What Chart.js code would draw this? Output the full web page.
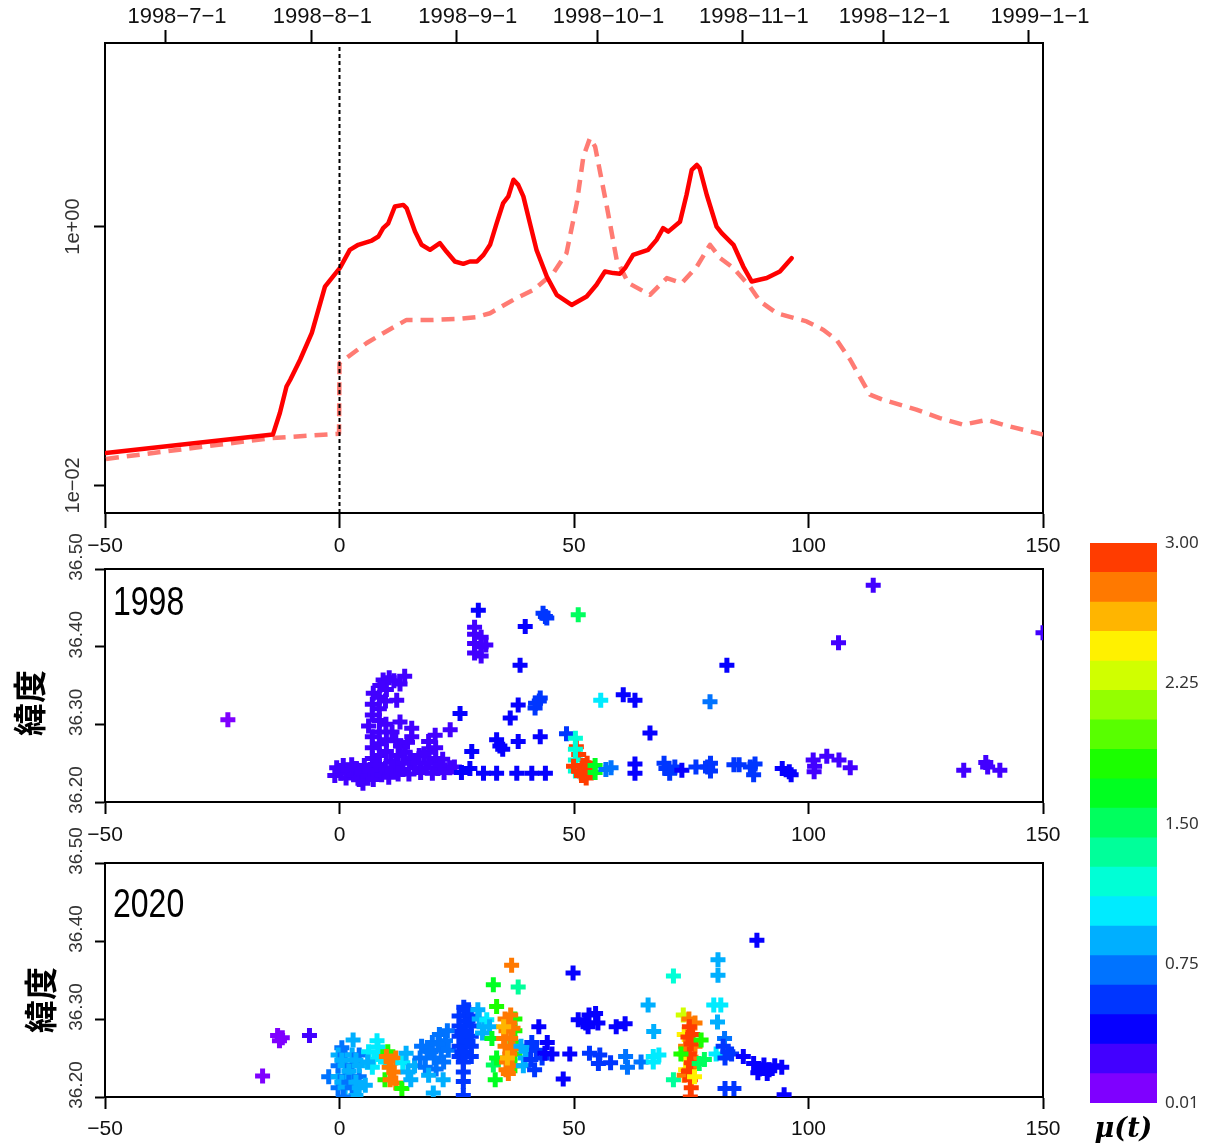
<!DOCTYPE html>
<html lang="ja">
<head>
<meta charset="UTF-8">
<title>μ(t)</title>
<script src="https://cdn.jsdelivr.net/npm/chart.js"></script>
<style>
  body { margin: 0; background: #fff; }
  .quadro { position: relative; width: 1209px; height: 1146px; overflow: hidden; background: #fff; }
  .quadro canvas { position: absolute; }
</style>
</head>
<body>
<div class="quadro">
  <canvas id="taxa" width="1209" height="565" style="left:0;top:0"></canvas>
  <canvas id="lat1998" width="1209" height="330" style="left:0;top:520px"></canvas>
  <canvas id="lat2020" width="1209" height="334" style="left:0;top:812px"></canvas>
  <canvas id="escala" width="149" height="626" style="left:1060px;top:520px"></canvas>
</div>
<script>
// eixos
const xTicks = [-50, 0, 50, 100, 150];
const xLabels = ['−50', '0', '50', '100', '150'];
const dateDays = [-37, -6, 25, 55, 86, 116, 147];
const dateLabels = ['1998−7−1', '1998−8−1', '1998−9−1', '1998−10−1', '1998−11−1', '1998−12−1', '1999−1−1'];
const rateTicks = [0.01, 1];
const rateLabels = ['1e−02', '1e+00'];
const rateMin = 0.00612;
const rateMax = 26.2;
const latTicks = [36.20, 36.25, 36.30, 36.35, 36.40, 36.45, 36.50];
const latLabels = ['36.20', '', '36.30', '', '36.40', '', '36.50'];

// taxa (linha cheia)
const solidDays = [-49.8, -14.2, -12.7, -11.3, -10.5, -8.4, -5.9, -3.1, -1.4, 0.1, 2.2, 4.0, 6.9, 8.3, 9.3, 10.4, 11.8, 13.6, 14.3, 16.1, 17.5, 19.3, 21.4, 22.8, 24.6, 26.4, 27.8, 29.3, 30.7, 32.1, 33.5, 34.9, 36.0, 37.1, 38.1, 39.2, 40.6, 42.0, 44.2, 46.3, 49.5, 52.7, 54.8, 56.6, 58.4, 59.8, 60.9, 62.6, 65.8, 67.6, 69.0, 70.1, 72.6, 74.0, 75.1, 76.2, 76.8, 78.3, 80.4, 81.5, 84.0, 86.1, 87.9, 91.1, 93.9, 96.4];
const solidRate = [0.0178, 0.0247, 0.0364, 0.0581, 0.0655, 0.0935, 0.151, 0.344, 0.411, 0.480, 0.661, 0.723, 0.780, 0.838, 0.973, 1.06, 1.43, 1.47, 1.39, 0.914, 0.723, 0.661, 0.745, 0.641, 0.537, 0.515, 0.537, 0.537, 0.604, 0.723, 1.06, 1.52, 1.71, 2.30, 2.10, 1.71, 1.06, 0.661, 0.411, 0.297, 0.248, 0.288, 0.355, 0.450, 0.437, 0.432, 0.478, 0.604, 0.661, 0.789, 0.973, 0.914, 1.09, 1.76, 2.74, 2.99, 2.82, 1.76, 1.00, 0.889, 0.723, 0.491, 0.376, 0.400, 0.450, 0.570];
// taxa (tracejada)
const dashedDays = [-49.8, -14.5, -0.1, 0, 5.8, 9.3, 14.3, 20.0, 25.0, 29.3, 32.1, 37.1, 41.4, 45.6, 48.4, 50.6, 52.0, 53.4, 54.5, 57.0, 59.1, 61.6, 66.2, 69.8, 73.0, 76.2, 79.0, 81.2, 84.0, 87.5, 89.7, 93.2, 99.6, 103.2, 106.0, 108.9, 113.1, 115.9, 123.0, 128.0, 133.0, 138.0, 141.5, 150];
const dashedRate = [0.0160, 0.0232, 0.0251, 0.0881, 0.126, 0.150, 0.190, 0.190, 0.193, 0.200, 0.214, 0.272, 0.325, 0.437, 0.623, 1.52, 3.47, 4.82, 4.15, 1.43, 0.553, 0.366, 0.297, 0.400, 0.366, 0.491, 0.723, 0.570, 0.478, 0.344, 0.264, 0.214, 0.185, 0.159, 0.133, 0.0935, 0.0502, 0.0459, 0.0385, 0.0331, 0.0294, 0.0321, 0.0294, 0.0247];

// escala de cores mu(t)
const muBreaks = [0.010, 0.167, 0.325, 0.482, 0.639, 0.797, 0.954, 1.112, 1.269, 1.426, 1.584, 1.741, 1.898, 2.056, 2.213, 2.370, 2.528, 2.685, 2.843, 3.000];
const muColors = ['#7F00FF', '#4200FF', '#0600FF', '#0036FF', '#0073FF', '#00AFFF', '#00EBFF', '#00FFD6', '#00FF9A', '#00FF5E', '#00FF21', '#1BFF00', '#58FF00', '#94FF00', '#D0FF00', '#FFF100', '#FFB500', '#FF7900', '#FF3C00'];
const muTicks = [0.01, 0.75, 1.50, 2.25, 3.00];
const muLabels = ['0.01', '0.75', '1.50', '2.25', '3.00'];

// [dia, latitude, mu]
const quakes1998 = [
  [-23.8, 36.306, 0.09],
  [-1.0, 36.234, 0.2], [-0.6, 36.244, 0.2], [0.3, 36.237, 0.2], [0.8, 36.247, 0.2], [1.4, 36.231, 0.2], [1.9, 36.241, 0.2],
  [2.6, 36.248, 0.2], [3.0, 36.235, 0.2], [3.6, 36.243, 0.2], [4.2, 36.229, 0.2], [4.8, 36.238, 0.2], [5.3, 36.247, 0.2],
  [5.0, 36.224, 0.2], [6.0, 36.233, 0.22], [6.5, 36.242, 0.22], [7.2, 36.229, 0.22], [7.8, 36.24, 0.22], [8.5, 36.248, 0.22],
  [9.0, 36.235, 0.22], [9.8, 36.243, 0.22], [10.5, 36.232, 0.22], [11.2, 36.24, 0.22], [12.0, 36.247, 0.22], [12.5, 36.236, 0.22],
  [7.0, 36.256, 0.25], [7.0, 36.27, 0.25], [7.0, 36.284, 0.25], [6.2, 36.298, 0.25], [7.0, 36.312, 0.25], [7.0, 36.326, 0.25], [7.2, 36.34, 0.25],
  [8.5, 36.26, 0.25], [8.5, 36.275, 0.25], [8.5, 36.29, 0.25], [8.5, 36.305, 0.25], [8.5, 36.32, 0.25], [8.5, 36.335, 0.25], [8.6, 36.35, 0.25],
  [10.0, 36.265, 0.25], [10.0, 36.28, 0.25], [9.8, 36.33, 0.25], [10.0, 36.345, 0.25], [9.9, 36.3, 0.25], [7.8, 36.248, 0.25],
  [9.3, 36.357, 0.25], [10.6, 36.36, 0.25], [11.6, 36.356, 0.25], [13.9, 36.362, 0.25], [12.9, 36.352, 0.25],
  [13.5, 36.242, 0.25], [14.8, 36.236, 0.25], [16.0, 36.244, 0.25], [17.3, 36.238, 0.25], [18.5, 36.244, 0.25], [19.8, 36.237, 0.25],
  [21.0, 36.243, 0.25], [22.3, 36.238, 0.25], [23.5, 36.244, 0.25],
  [11.2, 36.29, 0.25], [12.0, 36.279, 0.25], [13.0, 36.272, 0.25], [14.0, 36.264, 0.25], [15.0, 36.256, 0.25], [16.0, 36.25, 0.25],
  [17.0, 36.26, 0.25], [12.5, 36.26, 0.25], [14.5, 36.277, 0.25], [11.0, 36.252, 0.25], [13.5, 36.25, 0.25],
  [12.2, 36.331, 0.25], [12.9, 36.303, 0.25], [15.4, 36.295, 0.25], [15.4, 36.284, 0.25],
  [19.0, 36.25, 0.25], [19.0, 36.264, 0.25], [19.0, 36.278, 0.25], [20.5, 36.256, 0.25], [20.5, 36.27, 0.25], [20.4, 36.286, 0.25],
  [22.0, 36.255, 0.25], [18.0, 36.262, 0.25], [21.5, 36.248, 0.25],
  [23.6, 36.293, 0.3], [25.7, 36.314, 0.35], [24.5, 36.245, 0.3], [26.0, 36.238, 0.35], [27.8, 36.243, 0.35], [28.2, 36.265, 0.4],
  [28.8, 36.392, 0.3], [28.8, 36.404, 0.3], [28.8, 36.416, 0.3], [28.8, 36.425, 0.3], [30.2, 36.388, 0.3], [30.2, 36.4, 0.3],
  [30.2, 36.412, 0.3], [31.2, 36.402, 0.3], [29.6, 36.447, 0.33],
  [30.7, 36.237, 0.4], [33.5, 36.237, 0.4], [33.5, 36.28, 0.4], [34.2, 36.272, 0.4], [34.8, 36.268, 0.4],
  [36.4, 36.308, 0.45], [38.1, 36.325, 0.45], [38.5, 36.376, 0.45], [39.6, 36.426, 0.45], [41.8, 36.327, 0.5], [42.8, 36.334, 0.5],
  [41.7, 36.321, 0.5], [42.6, 36.33, 0.5], [42.8, 36.284, 0.45], [38.1, 36.278, 0.45], [37.8, 36.237, 0.45], [41.0, 36.237, 0.45],
  [43.9, 36.237, 0.45], [43.9, 36.439, 0.5], [43.4, 36.443, 0.5], [44.2, 36.437, 0.5],
  [48.4, 36.288, 0.6], [50.9, 36.441, 1.5],
  [50.5, 36.271, 2.93], [51.0, 36.261, 2.93],
  [50.3, 36.282, 1.2], [50.3, 36.268, 1.2], [50.3, 36.254, 1.2], [50.3, 36.24, 1.2],
  [49.9, 36.246, 2.93], [51.2, 36.24, 2.93], [51.9, 36.247, 2.93], [52.3, 36.237, 2.93], [53.2, 36.244, 2.93], [52.6, 36.231, 2.93],
  [51.6, 36.234, 2.93], [53.6, 36.238, 2.93], [52.8, 36.25, 2.93],
  [54.5, 36.247, 1.7], [54.5, 36.238, 1.7],
  [56.8, 36.242, 0.75], [57.9, 36.244, 0.72], [55.7, 36.331, 1.1],
  [60.5, 36.338, 0.45], [63.0, 36.331, 0.45], [66.2, 36.289, 0.45],
  [63.0, 36.249, 0.45], [63.0, 36.237, 0.45], [69.2, 36.25, 0.5], [69.6, 36.243, 0.5], [70.4, 36.237, 0.5], [71.5, 36.245, 0.5],
  [73.0, 36.241, 0.45], [76.0, 36.245, 0.6], [78.5, 36.245, 0.62], [79.1, 36.25, 0.62], [79.1, 36.24, 0.62], [79.0, 36.329, 0.65],
  [82.6, 36.376, 0.45], [84.1, 36.248, 0.5], [85.2, 36.248, 0.5], [87.6, 36.245, 0.5], [88.6, 36.249, 0.5], [88.3, 36.235, 0.5],
  [94.4, 36.243, 0.42], [95.9, 36.239, 0.42], [96.3, 36.235, 0.42],
  [101.0, 36.254, 0.3], [101.3, 36.246, 0.3], [101.2, 36.239, 0.3], [103.9, 36.259, 0.25], [106.5, 36.254, 0.25], [108.9, 36.244, 0.25],
  [106.4, 36.405, 0.22], [113.8, 36.479, 0.22],
  [133.1, 36.241, 0.2], [137.8, 36.251, 0.2], [138.2, 36.245, 0.2], [140.8, 36.241, 0.2], [150.0, 36.418, 0.2]
];

const quakes2020 = [
  [-16.4, 36.227, 0.1], [-13.2, 36.279, 0.12], [-12.2, 36.276, 0.12], [-12.8, 36.272, 0.12], [-6.4, 36.279, 0.3],
  [-2.3, 36.226, 0.75], [0.5, 36.263, 0.75], [2.9, 36.273, 0.8],
  [-0.3, 36.212, 0.75], [-0.3, 36.226, 0.85], [-0.3, 36.24, 0.75], [-0.3, 36.254, 0.85],
  [1.2, 36.212, 0.85], [1.2, 36.226, 0.75], [1.2, 36.24, 0.85], [1.2, 36.254, 0.75],
  [2.7, 36.212, 0.75], [2.7, 36.226, 0.85], [2.7, 36.24, 0.75], [2.7, 36.254, 0.85],
  [4.2, 36.212, 0.85], [4.2, 36.226, 0.75], [4.2, 36.24, 0.85], [4.2, 36.254, 0.75],
  [0.5, 36.219, 0.8], [2.0, 36.233, 0.8], [3.5, 36.247, 0.8], [2.0, 36.219, 0.75], [0.5, 36.247, 0.8], [3.5, 36.219, 0.85],
  [5.5, 36.215, 0.8], [3.5, 36.202, 0.8], [0.8, 36.2, 0.75],
  [6.2, 36.258, 1.05], [7.3, 36.248, 1.1], [8.2, 36.264, 1.1], [9.2, 36.254, 1.05], [7.0, 36.238, 1.0], [9.8, 36.245, 1.1],
  [8.0, 36.272, 1.1], [6.0, 36.245, 0.95],
  [10.3, 36.258, 1.75], [9.7, 36.222, 1.8],
  [10.0, 36.252, 2.75], [11.0, 36.246, 2.75], [10.6, 36.238, 2.75], [11.6, 36.232, 2.7], [12.0, 36.25, 2.75], [10.8, 36.222, 2.75],
  [12.0, 36.218, 2.75], [13.3, 36.211, 1.75],
  [13.5, 36.244, 1.0], [14.6, 36.232, 0.95], [15.2, 36.222, 0.95], [14.2, 36.256, 0.95], [16.0, 36.24, 0.9],
  [17.2, 36.25, 0.75], [18.3, 36.238, 0.78], [18.7, 36.26, 0.75], [19.8, 36.27, 0.72], [20.2, 36.25, 0.78], [21.3, 36.28, 0.72],
  [21.7, 36.26, 0.75], [22.6, 36.272, 0.72], [22.2, 36.245, 0.78], [20.6, 36.236, 0.75], [19.0, 36.228, 0.8], [23.0, 36.285, 0.72],
  [17.5, 36.265, 0.75], [20.0, 36.205, 0.8], [22.1, 36.222, 0.8], [19.5, 36.258, 0.75], [21.0, 36.268, 0.72], [23.2, 36.26, 0.72],
  [25.5, 36.252, 0.6], [25.5, 36.265, 0.6], [25.5, 36.278, 0.6], [25.5, 36.291, 0.6], [25.5, 36.304, 0.6],
  [26.8, 36.252, 0.6], [26.8, 36.265, 0.6], [26.8, 36.278, 0.6], [26.8, 36.291, 0.6], [26.8, 36.304, 0.6],
  [28.1, 36.252, 0.6], [28.1, 36.265, 0.6], [28.1, 36.278, 0.6], [28.1, 36.291, 0.6], [28.1, 36.304, 0.6],
  [26.1, 36.258, 0.6], [26.1, 36.284, 0.6], [27.4, 36.271, 0.6], [27.4, 36.297, 0.6],
  [26.5, 36.315, 0.6], [27.5, 36.312, 0.6],
  [26.4, 36.245, 0.6], [26.4, 36.232, 0.6], [26.4, 36.22, 0.6], [26.4, 36.202, 0.6],
  [29.8, 36.3, 0.95], [30.8, 36.29, 0.95], [31.4, 36.299, 1.1], [30.5, 36.282, 0.95], [32.0, 36.29, 0.95], [29.5, 36.312, 0.95],
  [32.8, 36.344, 1.6], [33.5, 36.316, 1.75], [32.8, 36.241, 1.55], [33.2, 36.222, 1.6], [33.5, 36.25, 1.7], [32.5, 36.275, 1.65],
  [37.4, 36.3, 1.8], [37.4, 36.285, 1.8], [37.4, 36.27, 1.8], [37.4, 36.255, 1.8], [37.4, 36.24, 1.8],
  [35.3, 36.3, 2.75], [36.3, 36.295, 2.75], [35.5, 36.285, 2.75], [36.5, 36.275, 2.75], [35.3, 36.265, 2.75], [36.3, 36.255, 2.75],
  [35.6, 36.245, 2.75], [36.8, 36.24, 2.75], [35.5, 36.235, 2.75], [37.0, 36.288, 2.75], [37.0, 36.262, 2.75], [36.5, 36.305, 2.75],
  [35.0, 36.275, 2.75], [36.0, 36.23, 2.75], [35.0, 36.29, 2.55], [35.8, 36.25, 2.6],
  [36.7, 36.369, 2.75], [38.1, 36.341, 1.4],
  [38.7, 36.265, 0.95], [39.6, 36.25, 0.95], [40.4, 36.26, 0.9], [39.2, 36.24, 0.95],
  [41.0, 36.27, 0.6], [42.0, 36.26, 0.6], [40.8, 36.248, 0.6], [43.2, 36.25, 0.55], [41.6, 36.235, 0.6], [42.5, 36.29, 0.45],
  [44.3, 36.27, 0.45], [43.8, 36.256, 0.45], [45.3, 36.255, 0.45],
  [49.8, 36.359, 0.42], [47.7, 36.223, 0.35], [49.1, 36.255, 0.4],
  [52.5, 36.295, 0.45], [53.2, 36.305, 0.45], [54.6, 36.307, 0.45], [55.1, 36.295, 0.45], [53.0, 36.29, 0.45], [50.9, 36.299, 0.42],
  [59.0, 36.29, 0.45], [60.9, 36.294, 0.45],
  [53.3, 36.256, 0.5], [55.2, 36.243, 0.5], [55.5, 36.254, 0.5], [57.8, 36.244, 0.5],
  [61.0, 36.252, 0.7], [61.4, 36.238, 0.7], [64.3, 36.245, 0.75],
  [66.9, 36.252, 1.0], [68.1, 36.254, 1.0], [66.9, 36.245, 1.0], [65.8, 36.318, 0.8], [67.0, 36.284, 0.95],
  [71.2, 36.355, 1.2], [71.2, 36.222, 1.3],
  [73.3, 36.305, 2.3], [74.5, 36.3, 2.75], [75.8, 36.295, 2.75], [73.5, 36.28, 2.45], [73.6, 36.255, 2.45], [73.8, 36.235, 2.4],
  [75.8, 36.265, 2.75], [76.0, 36.245, 2.75], [73.8, 36.265, 2.75], [73.5, 36.228, 2.75],
  [74.6, 36.29, 2.95], [74.3, 36.277, 2.95], [75.0, 36.268, 2.95], [74.6, 36.255, 2.9], [75.0, 36.244, 2.95], [74.4, 36.233, 2.95],
  [74.8, 36.222, 2.95], [75.0, 36.212, 2.95], [74.8, 36.2, 2.95], [75.3, 36.28, 2.95],
  [77.1, 36.273, 1.75], [76.7, 36.243, 1.5], [77.8, 36.248, 1.55], [72.8, 36.255, 1.85], [75.7, 36.226, 2.4],
  [80.3, 36.255, 1.05], [79.8, 36.318, 1.0], [81.3, 36.318, 1.0],
  [80.7, 36.376, 0.9], [80.7, 36.356, 0.9], [80.6, 36.296, 0.9], [82.1, 36.275, 0.75],
  [81.8, 36.265, 0.55], [82.8, 36.258, 0.55], [82.2, 36.25, 0.55], [83.6, 36.255, 0.5], [86.1, 36.252, 0.45],
  [82.2, 36.211, 0.6], [84.1, 36.211, 0.6], [89.0, 36.401, 0.4],
  [88.3, 36.243, 0.45], [89.5, 36.236, 0.45], [90.5, 36.241, 0.45], [91.6, 36.235, 0.45], [92.8, 36.24, 0.45], [94.3, 36.238, 0.45],
  [89.2, 36.231, 0.45], [91.2, 36.23, 0.45], [94.8, 36.203, 0.45]
];

const fonte = "'Liberation Sans Narrow', 'Liberation Sans', Arial, sans-serif";
Chart.defaults.font.family = fonte;
Chart.defaults.color = '#111';
Chart.defaults.animation = false;
Chart.defaults.events = [];
Chart.defaults.plugins.legend.display = false;
Chart.defaults.plugins.tooltip.enabled = false;

function corMu(mu) {
  for (let i = 0; i < muColors.length; i++) {
    if (mu < muBreaks[i + 1]) return muColors[i];
  }
  return muColors[muColors.length - 1];
}

function tamanho(n) {
  return s => { if (s.isHorizontal()) s.height = n; else s.width = n; };
}

function ticksDe(valores) {
  return s => { s.ticks = valores.map(v => ({ value: v })); };
}

function linhaBorda(pos, n) {
  return {
    type: 'linear', position: pos, min: 0, max: 1,
    ticks: { display: false },
    grid: { display: true, drawOnChartArea: false, drawTicks: false },
    border: { display: true, color: '#000', width: 2 },
    afterFit: tamanho(n)
  };
}

// textos soltos: ano do painel e rotulo 緯度
const textoPainel = {
  id: 'textoPainel',
  afterDraw(chart, args, opts) {
    const ctx = chart.ctx;
    ctx.save();
    ctx.fillStyle = '#000';
    if (opts.ano) {
      ctx.save();
      ctx.translate(chart.chartArea.left + 8, chart.chartArea.top + opts.anoY);
      ctx.scale(0.8, 1);
      ctx.font = "40px " + fonte;
      ctx.textAlign = 'left';
      ctx.textBaseline = 'alphabetic';
      ctx.fillText(opts.ano, 0, 0);
      ctx.restore();
    }
    if (opts.eixo) {
      ctx.translate(opts.eixoX, opts.eixoY);
      ctx.rotate(-Math.PI / 2);
      ctx.font = "bold 33px 'Noto Sans CJK JP', sans-serif";
      ctx.textAlign = 'center';
      ctx.textBaseline = 'middle';
      ctx.fillText(opts.eixo, 0, 0);
    }
    ctx.restore();
  }
};

// painel de cima: taxa
new Chart(document.getElementById('taxa'), {
  type: 'line',
  data: {
    datasets: [
      {
        data: [{ x: 0, y: rateMin }, { x: 0, y: rateMax }],
        borderColor: '#000', borderWidth: 2, borderDash: [4, 3], pointRadius: 0
      },
      {
        data: solidDays.map((d, i) => ({ x: d, y: solidRate[i] })),
        borderColor: '#ff0000', borderWidth: 4.5, pointRadius: 0,
        borderJoinStyle: 'round', borderCapStyle: 'round'
      },
      {
        data: dashedDays.map((d, i) => ({ x: d, y: dashedRate[i] })),
        borderColor: '#ff7b73', borderWidth: 4.5, borderDash: [13, 8], pointRadius: 0,
        borderJoinStyle: 'round'
      }
    ]
  },
  options: {
    responsive: false,
    devicePixelRatio: 1,
    layout: { padding: { left: 0, right: 166, top: 0, bottom: 0 } },
    scales: {
      x: {
        type: 'linear', position: 'bottom', min: -50, max: 150,
        afterBuildTicks: ticksDe(xTicks),
        ticks: { autoSkip: false, maxRotation: 0, padding: 6, font: { size: 21 }, callback: (v, i) => xLabels[i] },
        grid: { drawOnChartArea: false, tickLength: 15, tickColor: '#000', tickWidth: 2 },
        border: { color: '#000', width: 2 },
        afterFit: tamanho(52)
      },
      xTop: {
        type: 'linear', position: 'top', min: -50, max: 150,
        afterBuildTicks: ticksDe(dateDays),
        ticks: { autoSkip: false, maxRotation: 0, padding: 0, labelOffset: 11, font: { size: 22 }, callback: (v, i) => dateLabels[i] },
        grid: { drawOnChartArea: false, tickLength: 13, tickColor: '#000', tickWidth: 2 },
        border: { color: '#000', width: 2 },
        afterFit: tamanho(43)
      },
      y: {
        type: 'logarithmic', position: 'left', min: rateMin, max: rateMax, bounds: 'data',
        afterBuildTicks: ticksDe(rateTicks),
        ticks: { minRotation: 90, maxRotation: 90, crossAlign: 'center', padding: -8, color: '#333', font: { size: 20 }, callback: (v, i) => rateLabels[i] },
        grid: { drawOnChartArea: false, tickLength: 11, tickColor: '#000', tickWidth: 2 },
        border: { color: '#000', width: 2 },
        afterFit: tamanho(105)
      },
      yR: linhaBorda('right', 0)
    }
  }
});

function graficoLat(id, pontos, ano, anoY, topo, base, eixoX, eixoY, pad) {
  return new Chart(document.getElementById(id), {
    type: 'scatter',
    data: {
      datasets: [{
        data: pontos.map(p => ({ x: p[0], y: p[1] })),
        pointStyle: 'cross',
        pointRadius: 7.5,
        pointBorderWidth: 5,
        pointBorderColor: pontos.map(p => corMu(p[2])),
        pointBackgroundColor: pontos.map(p => corMu(p[2])),
        showLine: false,
        clip: 0
      }]
    },
    options: {
      responsive: false,
      devicePixelRatio: 1,
      layout: { padding: { left: 0, right: 166, top: 0, bottom: 0 } },
      scales: {
        x: {
          type: 'linear', position: 'bottom', min: -50, max: 150,
          afterBuildTicks: ticksDe(xTicks),
          ticks: { autoSkip: false, maxRotation: 0, padding: pad, font: { size: 21 }, callback: (v, i) => xLabels[i] },
          grid: { drawOnChartArea: false, tickLength: 12, tickColor: '#000', tickWidth: 2 },
          border: { color: '#000', width: 2 },
          afterFit: tamanho(base)
        },
        xTop: linhaBorda('top', topo),
        y: {
          type: 'linear', position: 'left', min: 36.2, max: 36.5,
          afterBuildTicks: ticksDe(latTicks),
          ticks: { minRotation: 90, maxRotation: 90, crossAlign: 'center', padding: -6, labelOffset: -12, color: '#333', font: { size: 19 }, callback: (v, i) => latLabels[i] },
          grid: { drawOnChartArea: false, tickLength: 10, tickColor: '#000', tickWidth: 2 },
          border: { color: '#000', width: 2 },
          afterFit: tamanho(105)
        },
        yR: linhaBorda('right', 0)
      },
      plugins: {
        textoPainel: { ano: ano, anoY: anoY, eixo: '緯度', eixoX: eixoX, eixoY: eixoY }
      }
    },
    plugins: [textoPainel]
  });
}

graficoLat('lat1998', quakes1998, '1998', 46, 49, 48, 29, 183, 9);
graficoLat('lat2020', quakes2020, '2020', 54, 51, 49, 40, 188, 8);

// barra de cores
new Chart(document.getElementById('escala'), {
  type: 'bar',
  data: {
    labels: [''],
    datasets: muColors.map((c, i) => ({
      data: [[muBreaks[i], muBreaks[i + 1]]],
      backgroundColor: c,
      borderWidth: 0,
      grouped: false,
      barPercentage: 1,
      categoryPercentage: 1
    }))
  },
  options: {
    responsive: false,
    devicePixelRatio: 1,
    layout: { padding: { left: 30, right: 0, top: 23, bottom: 0 } },
    scales: {
      x: {
        position: 'bottom',
        ticks: { display: false },
        grid: { display: false, drawTicks: false },
        border: { display: false },
        title: {
          display: true, text: 'μ(t)', color: '#000', padding: 0,
          font: { family: "'DejaVu Serif', serif", size: 27, style: 'italic', weight: 'bold' }
        },
        afterFit: tamanho(43)
      },
      y: {
        type: 'linear', position: 'right', min: 0.01, max: 3.0,
        afterBuildTicks: ticksDe(muTicks),
        ticks: { padding: 8, color: '#333', font: { family: "'Noto Sans', sans-serif", size: 17 }, callback: (v, i) => muLabels[i] },
        grid: { display: false, drawTicks: false },
        border: { display: false },
        afterFit: tamanho(52)
      }
    }
  }
});
</script>
</body>
</html>
